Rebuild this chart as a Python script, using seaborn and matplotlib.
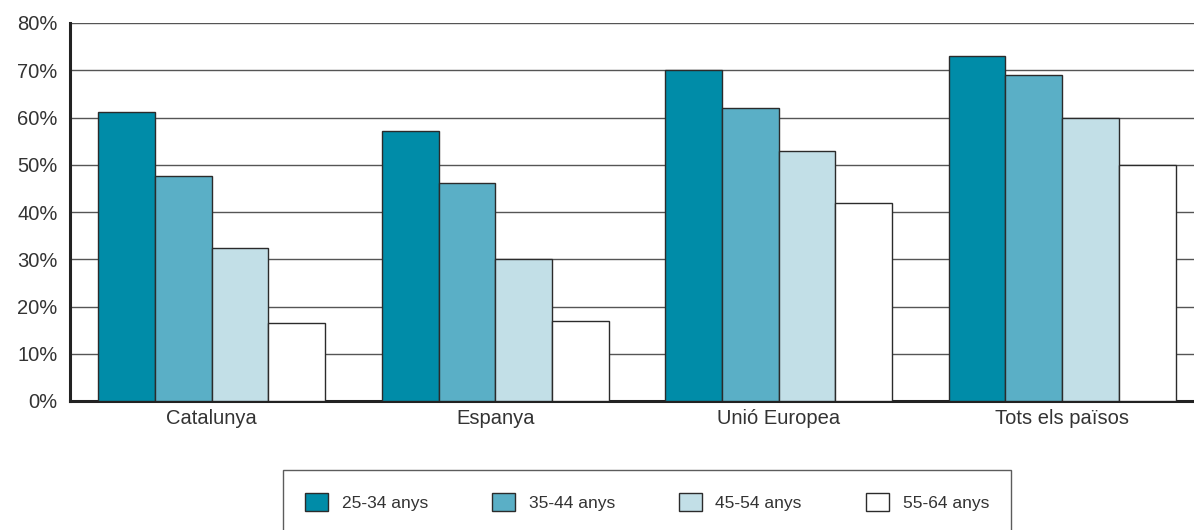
import matplotlib
matplotlib.use("Agg")
import matplotlib.pyplot as plt
import seaborn as sns
import pandas as pd

# Dades llegides del gràfic
regions = ["Catalunya", "Espanya", "Unió Europea", "Tots els països"]
grups = ["25-34 anys", "35-44 anys", "45-54 anys", "55-64 anys"]
edat_25_34 = [61.2, 57.1, 70.0, 73.0]
edat_35_44 = [47.6, 46.1, 62.0, 69.0]
edat_45_54 = [32.4, 30.0, 53.0, 60.0]
edat_55_64 = [16.5, 16.9, 42.0, 50.0]
colors = ["#008CA8", "#5AAFC6", "#C2DFE7", "#FFFFFF"]
yticks = [0, 10, 20, 30, 40, 50, 60, 70, 80]

valors = [edat_25_34, edat_35_44, edat_45_54, edat_55_64]
df = pd.DataFrame(
    [
        {"Regio": r, "Grup": g, "Valor": v}
        for g, serie in zip(grups, valors)
        for r, v in zip(regions, serie)
    ]
)

sns.set_style("white")
plt.rcParams["font.family"] = ["Liberation Sans", "DejaVu Sans"]

fig = plt.figure(figsize=(11.94, 5.30), dpi=100)
ax = fig.add_axes([70 / 1194, 129 / 530, 1124 / 1194, 378 / 530])

sns.barplot(
    data=df,
    x="Regio",
    y="Valor",
    hue="Grup",
    hue_order=grups,
    order=regions,
    palette=colors,
    saturation=1,
    edgecolor="#2b2b2b",
    linewidth=1.0,
    width=0.8,
    ax=ax,
    legend=True,
    zorder=3,
)

ax.set_xlim(-0.5, 3.465)
ax.set_ylim(0, 80)
ax.set_yticks(yticks)
ax.set_yticklabels([f"{t}%" for t in yticks])
ax.set_xlabel("")
ax.set_ylabel("")

# Línies de graella horitzontals
ax.yaxis.grid(True, color="#555555", linewidth=1.0, zorder=0)
ax.set_axisbelow(True)

for s in ["top", "right"]:
    ax.spines[s].set_visible(False)
for s in ["left", "bottom"]:
    ax.spines[s].set_color("#222222")
    ax.spines[s].set_linewidth(2.2)

# Marques a les separacions de categories
ax.set_xticks([0.5, 1.5, 2.5, -0.5], minor=True)
ax.tick_params(axis="x", which="minor", length=8, width=2, color="#222222", direction="out")
ax.tick_params(axis="x", which="major", length=0, labelsize=14.5, labelcolor="#333333", pad=6)
ax.tick_params(axis="y", length=8, width=2, color="#222222", direction="out",
               labelsize=14.5, labelcolor="#333333", pad=1)

handles, labels = ax.get_legend_handles_labels()
ax.get_legend().remove()
leg = fig.legend(
    handles,
    labels,
    ncol=4,
    loc="upper center",
    bbox_to_anchor=(647 / 1194, 1 - 470 / 530),
    frameon=True,
    fancybox=False,
    edgecolor="#333333",
    fontsize=12.5,
    handlelength=1.3,
    handleheight=1.3,
    handletextpad=0.8,
    columnspacing=3.7,
    borderpad=1.3,
    borderaxespad=0,
)
leg.get_frame().set_linewidth(1.0)
for t in leg.get_texts():
    t.set_color("#333333")

fig.savefig("out.png", dpi=100)
